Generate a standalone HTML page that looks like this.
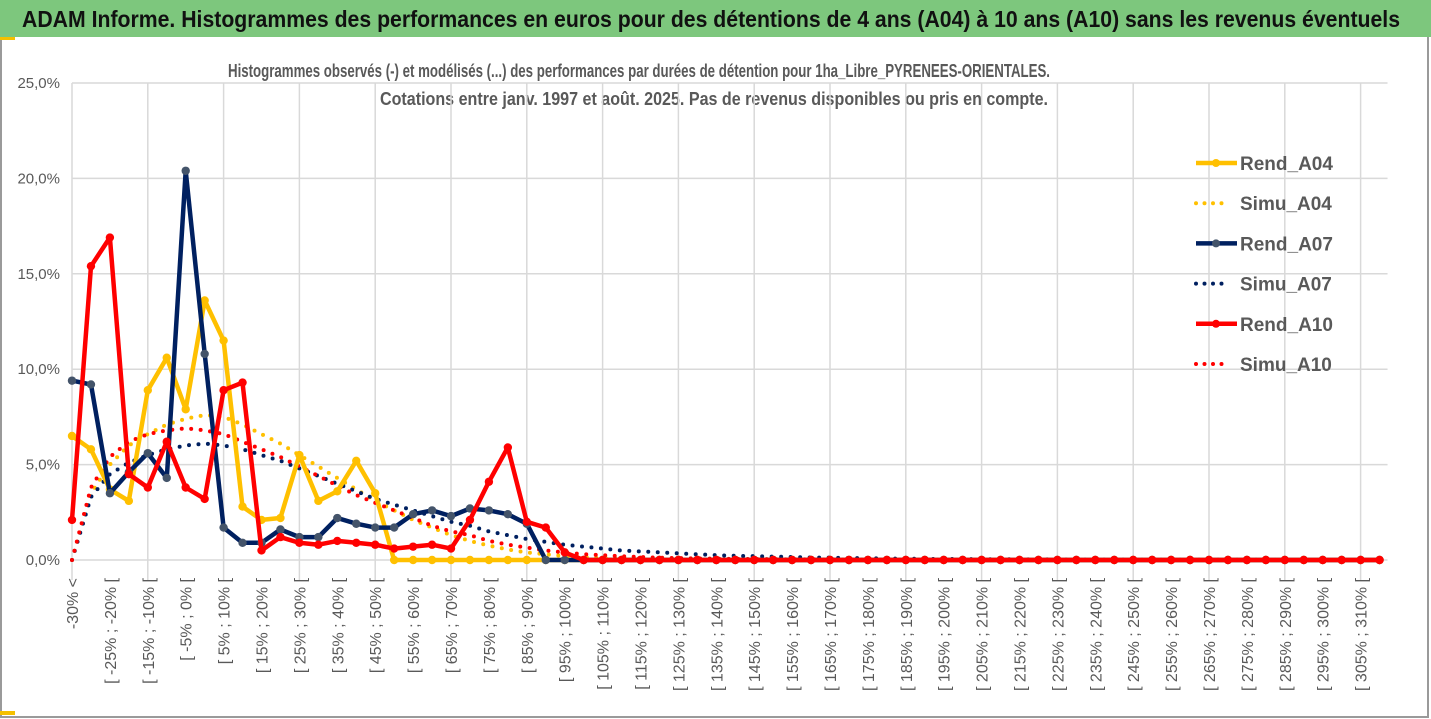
<!DOCTYPE html>
<html><head><meta charset="utf-8"><style>
body{margin:0;background:#fff;}
svg{display:block;font-family:"Liberation Sans Narrow","Liberation Sans",sans-serif;}
</style></head><body>
<svg id="chart" width="1431" height="719" viewBox="0 0 1431 719" xmlns="http://www.w3.org/2000/svg">
<rect x="0" y="0" width="1431" height="719" fill="#fff"/>
<rect x="1" y="1" width="1427" height="716" fill="none" stroke="#9a9a9a" stroke-width="2"/>
<rect x="0" y="0" width="1431" height="37" fill="#7dc77d"/>
<rect x="0" y="37" width="15" height="3" fill="#f5c000"/>
<rect x="0" y="711" width="15" height="4" fill="#f5c000"/>
<text x="22" y="27" font-size="23" font-weight="bold" fill="#111" textLength="1378" lengthAdjust="spacingAndGlyphs">ADAM Informe. Histogrammes des performances en euros pour des détentions de 4 ans (A04) à 10 ans (A10) sans les revenus éventuels</text>
<text x="639" y="77" text-anchor="middle" font-size="18" font-weight="bold" fill="#595959" textLength="822" lengthAdjust="spacingAndGlyphs">Histogrammes observés (-) et modélisés (...) des performances par durées de détention pour 1ha_Libre_PYRENEES-ORIENTALES.</text>
<text x="714" y="105" text-anchor="middle" font-size="18" font-weight="bold" fill="#595959" textLength="668" lengthAdjust="spacingAndGlyphs">Cotations entre janv. 1997 et août. 2025. Pas de revenus disponibles ou pris en compte.</text>
<g id="grid"></g>
<g id="axes"></g>
<g id="series"></g>
<g id="legend"></g>
</svg>
<script>
const yTicks = [0,5,10,15,20,25];
const yTickLabels = ["0,0%","5,0%","10,0%","15,0%","20,0%","25,0%"];
const rendA04 = [6.5,5.8,3.7,3.1,8.9,10.6,7.9,13.6,11.5,2.8,2.1,2.2,5.5,3.1,3.6,5.2,3.5,0,0,0,0,0,0,0,0,0,0,0,0,0,0,0,0,0,0,0,0,0,0,0,0,0,0,0,0,0,0,0,0,0,0,0,0,0,0,0,0,0,0,0,0,0,0,0,0,0,0,0,0,0];
const simuA04 = [0,3.5,5.0,6.0,6.6,7.1,7.4,7.6,7.5,7.1,6.6,6.1,5.5,4.9,4.3,3.7,3.1,2.6,2.1,1.7,1.3,1.0,0.75,0.55,0.4,0.3,0.2,0.15,0.1,0.08,0.05,0.04,0.03,0.02,0.02,0.01,0.01,0,0,0,0,0,0,0,0,0,0,0,0,0,0,0,0,0,0,0,0,0,0,0,0,0,0,0,0,0,0,0,0,0];
const rendA07 = [9.4,9.2,3.5,4.6,5.6,4.3,20.4,10.8,1.7,0.9,0.9,1.6,1.2,1.2,2.2,1.9,1.7,1.7,2.4,2.6,2.3,2.7,2.6,2.4,1.9,0,0,0,0,0,0,0,0,0,0,0,0,0,0,0,0,0,0,0,0,0,0,0,0,0,0,0,0,0,0,0,0,0,0,0,0,0,0,0,0,0,0,0,0,0];
const simuA07 = [0,3.3,4.5,5.1,5.5,5.8,6.0,6.1,6.0,5.8,5.5,5.2,4.8,4.4,4.0,3.6,3.2,2.9,2.6,2.3,2.0,1.8,1.5,1.3,1.1,0.95,0.8,0.7,0.6,0.5,0.45,0.4,0.35,0.3,0.25,0.22,0.2,0.18,0.15,0.13,0.12,0.1,0.09,0.08,0.07,0.06,0.05,0.05,0.04,0.04,0.03,0.03,0.03,0.02,0.02,0.02,0.02,0.01,0.01,0.01,0.01,0.01,0.01,0.01,0,0,0,0,0,0];
const rendA10 = [2.1,15.4,16.9,4.5,3.8,6.2,3.8,3.2,8.9,9.3,0.5,1.2,0.9,0.8,1.0,0.9,0.8,0.6,0.7,0.8,0.6,2.1,4.1,5.9,2.0,1.7,0.4,0,0,0,0,0,0,0,0,0,0,0,0,0,0,0,0,0,0,0,0,0,0,0,0,0,0,0,0,0,0,0,0,0,0,0,0,0,0,0,0,0,0,0];
const simuA10 = [0,3.8,5.4,6.2,6.6,6.8,6.9,6.8,6.6,6.2,5.8,5.4,4.9,4.4,3.9,3.4,3.0,2.6,2.2,1.8,1.5,1.3,1.0,0.8,0.65,0.5,0.4,0.3,0.25,0.2,0.15,0.12,0.1,0.08,0.07,0.06,0.05,0.04,0.03,0.03,0.02,0.02,0.02,0.01,0.01,0.01,0.01,0,0,0,0,0,0,0,0,0,0,0,0,0,0,0,0,0,0,0,0,0,0,0];
const categories = ["-30% <"];
for (let i = 1; i < 70; i++) { const a = -35 + 5*i; categories.push("[ " + a + "% ; " + (a+5) + "% ["); }

const NS = "http://www.w3.org/2000/svg";
const X0 = 72, STEP = 18.95, Y0 = 560, YTOP = 83, YMAX = 25;
const xs = i => X0 + i*STEP;
const ys = v => Y0 - (v/YMAX)*(Y0-YTOP);
function mk(tag, attrs, parent){ const e=document.createElementNS(NS,tag); for(const k in attrs) e.setAttribute(k,attrs[k]); parent.appendChild(e); return e; }
const grid=document.getElementById('grid'), axes=document.getElementById('axes'), series=document.getElementById('series'), legend=document.getElementById('legend');
const xEnd = xs(categories.length-1)+8;
yTicks.forEach((t,i)=>{
  const l=mk('line',{x1:X0,x2:xEnd,y1:ys(t),y2:ys(t),stroke:'#d9d9d9','stroke-width':1.5},grid);
  
  
  const tx=mk('text',{x:60,y:ys(t)+5,'text-anchor':'end','font-size':15,fill:'#595959'},axes);
  tx.textContent=yTickLabels[i];
  
  
});
for(let i=0;i<categories.length;i+=4){
  const l=mk('line',{x1:xs(i),x2:xs(i),y1:YTOP,y2:Y0+20,stroke:'#d9d9d9','stroke-width':1.5},grid);
  
  
}
for(let i=0;i<categories.length;i+=2){
  const x=xs(i)+6, y=578;
  const tx=mk('text',{x:x,y:y,'text-anchor':'end','font-size':16,fill:'#595959',transform:`rotate(-90 ${x} ${y})`},axes);
  tx.textContent=categories[i];
  
  
}
function drawLine(data,color,marker,name){
  const pts=data.map((v,i)=>xs(i).toFixed(1)+','+ys(v).toFixed(1)).join(' ');
  const p=mk('polyline',{points:pts,fill:'none',stroke:color,'stroke-width':4.5,'stroke-linejoin':'round'},series);
  
  
  data.forEach((v,i)=>{
    const c=mk('circle',{cx:xs(i),cy:ys(v),r:4.2,fill:marker},series);
    
    
  });
}
function drawDots(data,color,name){
  const pts=data.map((v,i)=>xs(i).toFixed(1)+','+ys(v).toFixed(1)).join(' ');
  const p=mk('polyline',{points:pts,fill:'none',stroke:color,'stroke-width':4,'stroke-linecap':'round','stroke-dasharray':'0 9.5'},series);
  
  
}
drawDots(simuA04,'#ffc000','simu-a04');
drawDots(simuA07,'#002060','simu-a07');
drawDots(simuA10,'#ff0000','simu-a10');
drawLine(rendA04,'#ffc000','#ffc000','rend-a04');
drawLine(rendA07,'#002060','#44546a','rend-a07');
drawLine(rendA10,'#ff0000','#ff0000','rend-a10');
const leg=[['Rend_A04','#ffc000','#ffc000',false],['Simu_A04','#ffc000',null,true],['Rend_A07','#002060','#44546a',false],['Simu_A07','#002060',null,true],['Rend_A10','#ff0000','#ff0000',false],['Simu_A10','#ff0000',null,true]];
leg.forEach((e,i)=>{
  const y=163+i*40.2;
  const g=mk('g',{},legend);
  
  
  if(e[3]) mk('line',{x1:1196,x2:1230,y1:y,y2:y,stroke:e[1],'stroke-width':4,'stroke-linecap':'round','stroke-dasharray':'0 8.5'},g);
  else { mk('line',{x1:1196,x2:1237,y1:y,y2:y,stroke:e[1],'stroke-width':4.5},g); mk('circle',{cx:1216,cy:y,r:4,fill:e[2]},g); }
  const t=mk('text',{x:1240,y:y+7,'font-size':19,'font-weight':'bold',fill:'#595959'},g);
  t.textContent=e[0];
});
</script>
</body></html>
